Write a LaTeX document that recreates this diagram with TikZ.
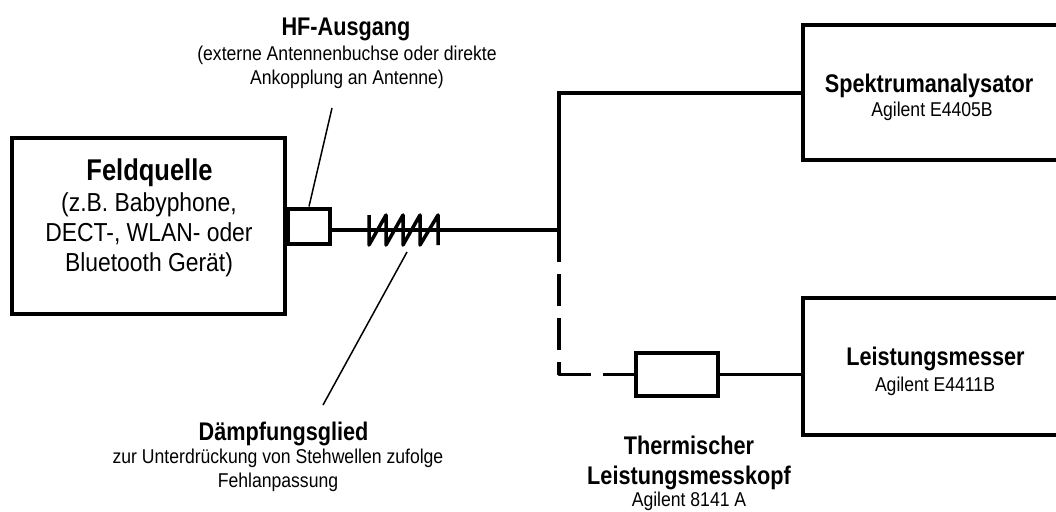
\documentclass[tikz,border=0pt]{standalone}
\usepackage{fontspec}
\setmainfont[FakeStretch=0.88]{Liberation Sans}
\newfontfamily\heavyfont[FakeStretch=0.85,BoldFont={Liberation Sans Bold}]{Liberation Sans}
\begin{document}
\begin{tikzpicture}[x=1pt,y=-1pt,
  box/.style={draw=black,line width=4pt},
  wire/.style={draw=black,line width=3.2pt},
  thick wire/.style={draw=black,line width=4pt},
  leader/.style={draw=black,line width=1.5pt},
  title/.style={inner sep=0pt,align=center,anchor=base,font=\fontsize{30}{36}\selectfont\heavyfont\bfseries},
  head/.style={inner sep=0pt,align=center,anchor=base,font=\fontsize{25.5}{29.5}\selectfont\heavyfont\bfseries},
  sub/.style={inner sep=0pt,align=center,anchor=base,font=\fontsize{20}{24}\selectfont},
  mid/.style={inner sep=0pt,align=center,anchor=base,font=\fontsize{26}{30}\selectfont}]
\useasboundingbox (0,0) rectangle (1056,511);
\fill[white] (0,0) rectangle (1056,511);
\path[box] (12,138) rectangle (285,314);
\node[box,minimum width=0pt,inner sep=0pt] (port) at (309,226) {\rule{0pt}{35pt}\rule{42pt}{0pt}};
\coordinate (spa) at (803,93);
\coordinate (pm) at (803,374.3);
\path[box] (1070,25) -- (spa |- 0,25) -- (spa |- 0,160) -- (1070,160);
\path[box] (1070,298) -- (803,298) -- (803,435) -- (1070,435);
\node[box,inner sep=0pt] (head) at (677,374.3) {\rule{0pt}{43pt}\rule{82pt}{0pt}};
\coordinate (junction) at (559,230);
\coordinate (top) at (559,93);
\coordinate (corner) at (559,374.3);
\coordinate (dashend) at (603,374.3);
\path[thick wire] (port.east |- junction) -- (junction);
\path[wire,line cap=butt] (top) -- (spa);
\path[thick wire] (junction) -- (559,91.4);
\path[thick wire,line cap=butt] (junction) -- (559,262) (559,274) -- (559,306) (559,318) -- (559,350);
\path[wire,line join=round] (559,362) -- (corner) -- (591,374.3);
\path[wire] (dashend) -- (head.west);
\path[wire] (head.east) -- (pm);
\path[draw=black,line width=3.5pt,line join=round]
  (369,215) -- (369,245) -- (386,215) -- (386,245) -- (403,215) -- (403,245) -- (420,215) -- (420,245) -- (438,215) -- (438,245);
\coordinate (t1) at (332,108);
\coordinate (t2) at (407,252);
\coordinate (t3) at (323,405);
\path[leader] (port.north west) ++(23,0) -- (t1);
\path[leader] (t2) -- (t3);
\node[title] (n1) at (149.5,180) {Feldquelle};
\node[mid,anchor=north] (n2) at (149,192) {(z.B. Babyphone,\\DECT-, WLAN- oder\\Bluetooth Gerät)};
\node[head] (n3) at (346,36) {HF-Ausgang};
\node[sub,anchor=north] (n4) at (347,46) {(externe Antennenbuchse oder direkte\\Ankopplung an Antenne)};
\node[head] (n5) at (283.5,440) {Dämpfungsglied};
\node[sub,anchor=north] (n6) at (278,449) {zur Unterdrückung von Stehwellen zufolge\\Fehlanpassung};
\node[head,anchor=north] (n7) at (689,436) {Thermischer\\Leistungsmesskopf};
\node[sub] (n8) at (689,506.5) {Agilent 8141 A};
\node[head] (n9) at (929,92) {Spektrumanalysator};
\node[sub] (n10) at (932,116) {Agilent E4405B};
\node[head] (n11) at (935.5,365) {Leistungsmesser};
\node[sub] (n12) at (935,391) {Agilent E4411B};
\end{tikzpicture}
\end{document}
